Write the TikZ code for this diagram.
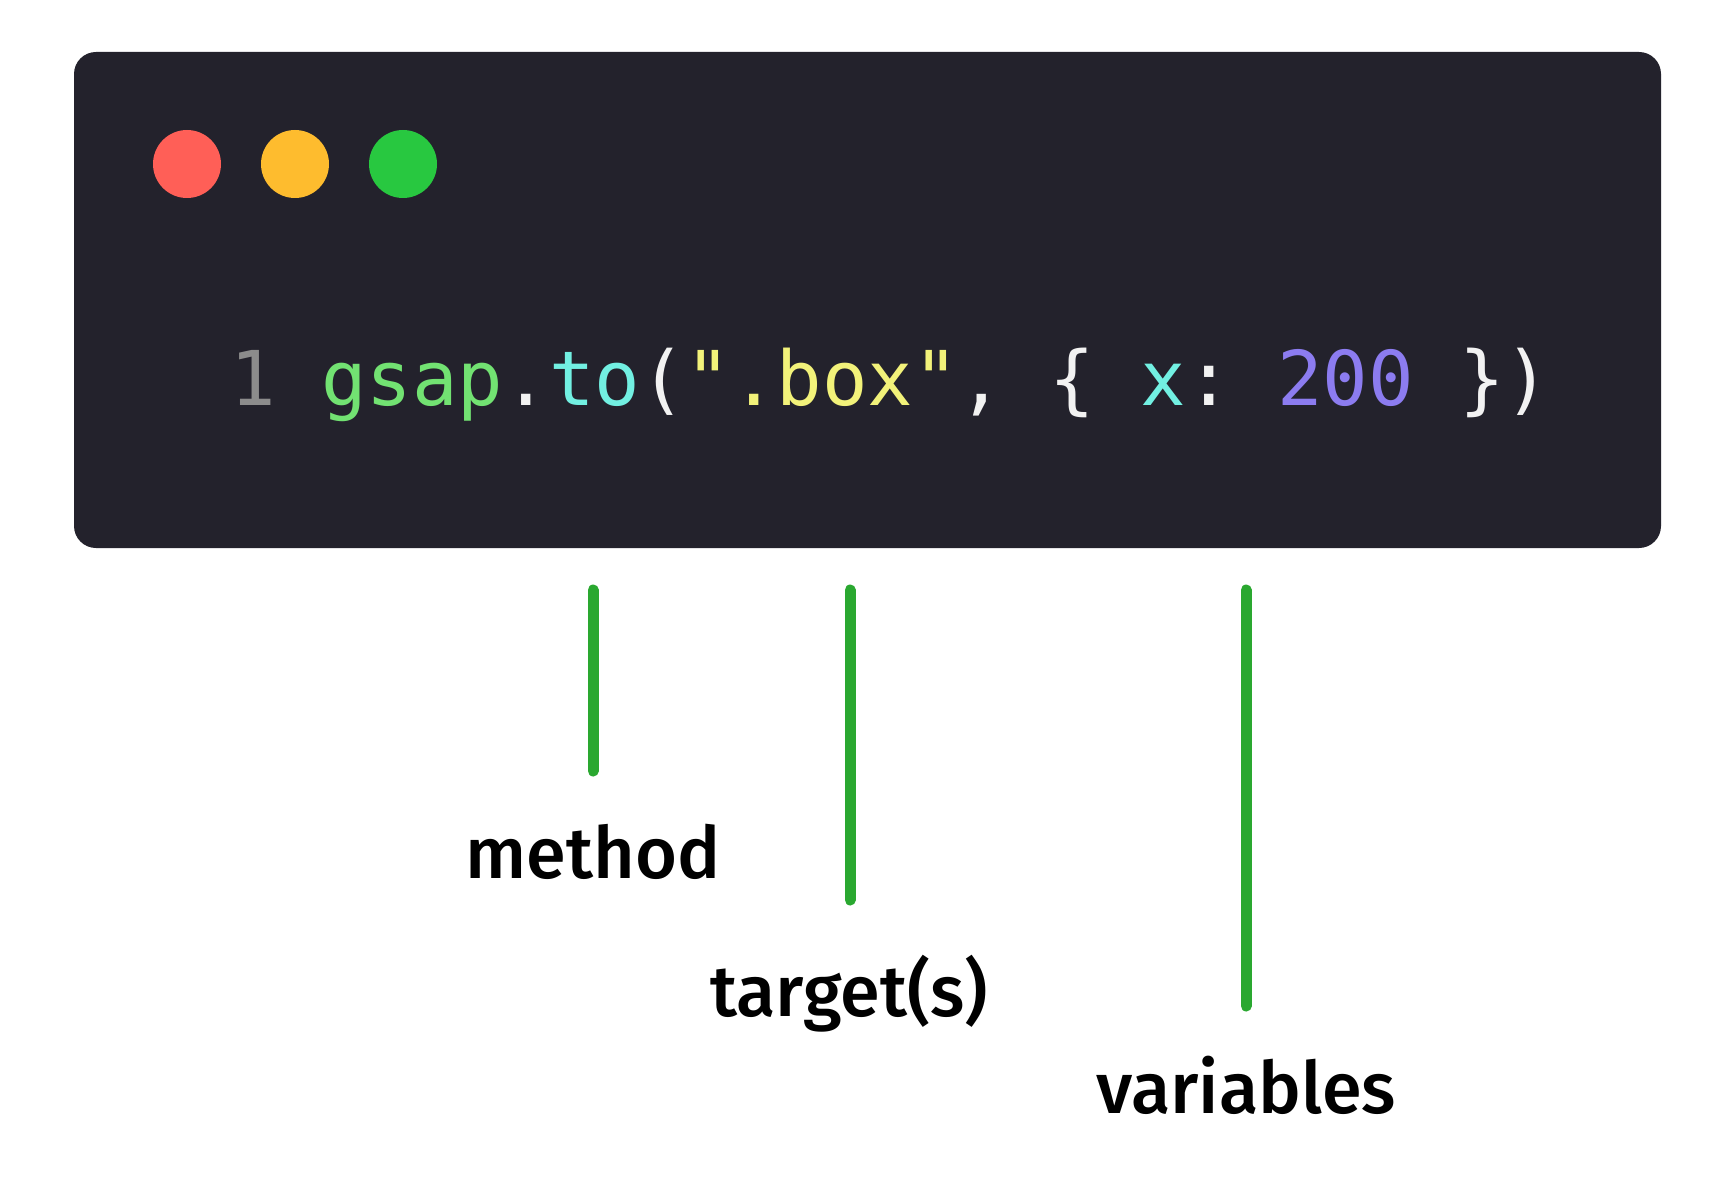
\documentclass[tikz,border=0pt]{standalone}
\usepackage{fontspec}
\setmainfont{Fira Sans}[BoldFont={Fira Sans Medium}]
\setmonofont{DejaVu Sans Mono}
\definecolor{codebg}{HTML}{23222C}
\definecolor{codefg}{HTML}{F2F2F2}
\definecolor{linenum}{HTML}{8C8C8C}
\definecolor{objgreen}{HTML}{72E272}
\definecolor{fncyan}{HTML}{72F0E2}
\definecolor{stryellow}{HTML}{F2F27A}
\definecolor{numpurple}{HTML}{8C7CF0}
\definecolor{dotred}{HTML}{FF5F57}
\definecolor{dotyellow}{HTML}{FEBC2E}
\definecolor{dotgreen}{HTML}{28C840}
\definecolor{markgreen}{HTML}{2AA830}
\begin{document}
\begin{tikzpicture}[x=0.5pt,y=-0.5pt,
    dot/.style={circle,minimum size=34pt,inner sep=0pt},
    marker/.style={markgreen,line width=5.5pt,line cap=round},
    label/.style={anchor=base,inner sep=0pt,font=\fontsize{36}{40}\selectfont\bfseries}]
    \useasboundingbox (0,0) rectangle (1728,1187);
    % window
    \fill[codebg,rounded corners=11pt] (74,52) rectangle (1661,548);
    \node[dot,fill=dotred] (close) at (187,164) {};
    \node[dot,fill=dotyellow] (minimize) at (295,164) {};
    \node[dot,fill=dotgreen] (zoom) at (403,164) {};
    \node[anchor=base west,inner sep=0pt,text=codefg,
        font=\ttfamily\fontsize{37.8}{40}\selectfont] (code) at (230,406)
        {\textcolor{linenum}{1} \textcolor{objgreen}{gsap}.\textcolor{fncyan}{to}(\textcolor{stryellow}{".box"}, \{ \textcolor{fncyan}{x}: \textcolor{numpurple}{200} \})};
    % markers
    \coordinate (methodtop) at (593,590);
    \coordinate (methodend) at (593,771);
    \coordinate (targettop) at (850,590);
    \coordinate (targetend) at (850,900);
    \coordinate (varstop) at (1246,590);
    \coordinate (varsend) at (1246,1006);
    \draw[marker] (methodtop) -- (methodend);
    \draw[marker] (targettop) -- (targetend);
    \draw[marker] (varstop) -- (varsend);
    \node[label] (method) at (593,878) {method};
    \node[label] (target) at (849,1016) {target(s)};
    \node[label] (vars) at (1246,1113) {variables};
\end{tikzpicture}
\end{document}
